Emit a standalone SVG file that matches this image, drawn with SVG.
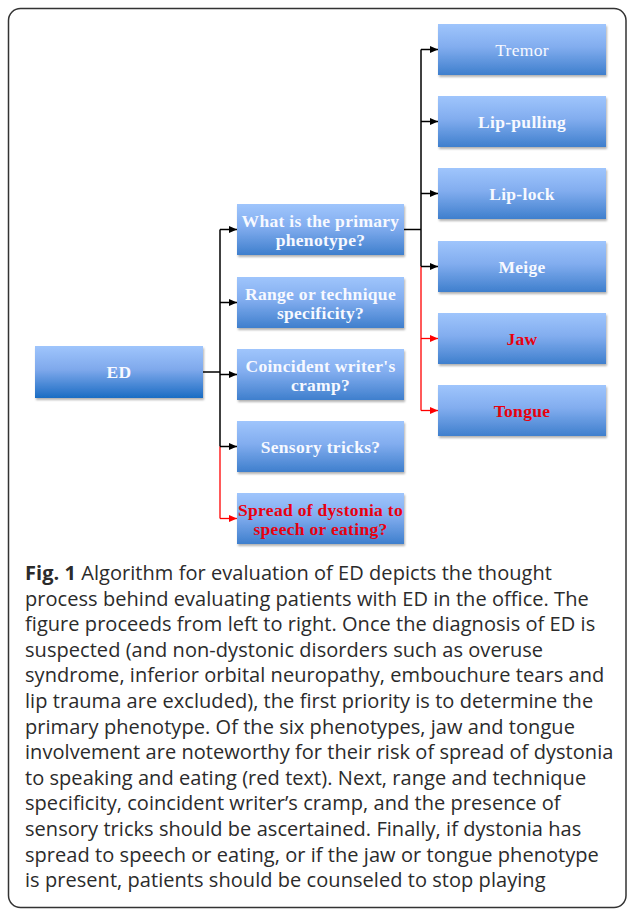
<svg xmlns="http://www.w3.org/2000/svg" width="627" height="911" viewBox="0 0 627 911">
<defs>
<style>
.box{fill:url(#g);filter:url(#sh)}
.boxed{fill:url(#g2);filter:url(#sh)}
.t{font-family:"Liberation Serif",serif;font-size:17.5px;font-weight:bold;fill:#f7f9ff;text-anchor:middle;letter-spacing:0.3px}
.t.red{fill:#e8000f}
.t.reg{font-weight:normal}
.k{fill:none;stroke:#000;stroke-width:1.5}
.r{fill:none;stroke:#f00;stroke-width:1.3}
.cap{font-family:"Open Sans",sans-serif;font-size:20px;fill:#2b2b2b;letter-spacing:0.05px}
</style>
<linearGradient id="g" x1="0" y1="0" x2="0" y2="1">
<stop offset="0" stop-color="#9fc5fc"/>
<stop offset="0.45" stop-color="#82adef"/>
<stop offset="1" stop-color="#3f7fcd"/>
</linearGradient>
<linearGradient id="g2" x1="0" y1="0" x2="0" y2="1">
<stop offset="0" stop-color="#9fc5fc"/>
<stop offset="0.45" stop-color="#7fa9ec"/>
<stop offset="1" stop-color="#1a6cc3"/>
</linearGradient>
<filter id="sh" x="-10%" y="-10%" width="125%" height="140%">
<feDropShadow dx="1" dy="2" stdDeviation="1.2" flood-color="#000" flood-opacity="0.3"/>
</filter>
<marker id="ab" markerUnits="userSpaceOnUse" markerWidth="9" markerHeight="8" refX="8" refY="3.5" orient="auto">
<path d="M0,0 L8,3.5 L0,7 z" fill="#000"/>
</marker>
<marker id="ar" markerUnits="userSpaceOnUse" markerWidth="9" markerHeight="8" refX="8" refY="3.5" orient="auto">
<path d="M0,0 L8,3.5 L0,7 z" fill="#f00"/>
</marker>
</defs>
<rect x="8.5" y="8.5" width="617.5" height="899" rx="12" fill="#fff" stroke="#333" stroke-width="1.5"/>

<g id="connectors">
<path class="k" d="M203,372 H220" stroke-width="2"/>
<path class="k" d="M220,229.5 V446.5"/>
<path class="r" d="M220,446.5 V518.5"/>
<path class="k" d="M220,229.5 H237" marker-end="url(#ab)"/>
<path class="k" d="M220,302.5 H237" marker-end="url(#ab)"/>
<path class="k" d="M220,374.5 H237" marker-end="url(#ab)"/>
<path class="k" d="M220,446.5 H237" marker-end="url(#ab)"/>
<path class="r" d="M220,518.5 H237" marker-end="url(#ar)"/>
<path class="k" d="M404,229.5 H421"/>
<path class="k" d="M421,49.5 V266.5"/>
<path class="r" d="M421,266.5 V410.5"/>
<path class="k" d="M421,49.5 H438" marker-end="url(#ab)"/>
<path class="k" d="M421,121.5 H438" marker-end="url(#ab)"/>
<path class="k" d="M421,193.5 H438" marker-end="url(#ab)"/>
<path class="k" d="M421,266.5 H438" marker-end="url(#ab)"/>
<path class="r" d="M421,338.5 H438" marker-end="url(#ar)"/>
<path class="r" d="M421,410.5 H438" marker-end="url(#ar)"/>
</g>

<g id="ed"><rect class="boxed" x="35" y="346" width="168" height="52"/><text class="t" x="119" y="377.5">ED</text></g>

<g id="primary"><rect class="box" x="237" y="204" width="167" height="51"/><text class="t" x="320.5" y="227">What is the primary</text><text class="t" x="320.5" y="245.5">phenotype?</text></g>
<g id="range"><rect class="box" x="237" y="277" width="167" height="51"/><text class="t" x="320.5" y="300">Range or technique</text><text class="t" x="320.5" y="318.5">specificity?</text></g>
<g id="writers"><rect class="box" x="237" y="349" width="167" height="51"/><text class="t" x="320.5" y="372">Coincident writer's</text><text class="t" x="320.5" y="390.5">cramp?</text></g>
<g id="sensory"><rect class="box" x="237" y="421" width="167" height="51"/><text class="t" x="320.5" y="452.5">Sensory tricks?</text></g>
<g id="spread"><rect class="box" x="237" y="493" width="167" height="51"/><text class="t red" x="320.5" y="516">Spread of dystonia to</text><text class="t red" x="320.5" y="534.5">speech or eating?</text></g>

<g id="tremor"><rect class="box" x="438" y="24" width="168" height="51"/><text class="t reg" x="522" y="55.5">Tremor</text></g>
<g id="lippulling"><rect class="box" x="438" y="96" width="168" height="51"/><text class="t" x="522" y="127.5">Lip-pulling</text></g>
<g id="liplock"><rect class="box" x="438" y="168" width="168" height="51"/><text class="t" x="522" y="199.5">Lip-lock</text></g>
<g id="meige"><rect class="box" x="438" y="241" width="168" height="51"/><text class="t" x="522" y="272.5">Meige</text></g>
<g id="jaw"><rect class="box" x="438" y="313" width="168" height="51"/><text class="t red" x="522" y="344.5">Jaw</text></g>
<g id="tongue"><rect class="box" x="438" y="385" width="168" height="51"/><text class="t red" x="522" y="416.5">Tongue</text></g>

<g id="caption" class="cap">
<text x="25" y="580"><tspan font-weight="bold">Fig. 1</tspan> Algorithm for evaluation of ED depicts the thought</text>
<text x="25" y="605.6">process behind evaluating patients with ED in the office. The</text>
<text x="25" y="631.2">figure proceeds from left to right. Once the diagnosis of ED is</text>
<text x="25" y="656.8">suspected (and non-dystonic disorders such as overuse</text>
<text x="25" y="682.4">syndrome, inferior orbital neuropathy, embouchure tears and</text>
<text x="25" y="708">lip trauma are excluded), the first priority is to determine the</text>
<text x="25" y="733.6">primary phenotype. Of the six phenotypes, jaw and tongue</text>
<text x="25" y="759.2">involvement are noteworthy for their risk of spread of dystonia</text>
<text x="25" y="784.8">to speaking and eating (red text). Next, range and technique</text>
<text x="25" y="810.4">specificity, coincident writer’s cramp, and the presence of</text>
<text x="25" y="836">sensory tricks should be ascertained. Finally, if dystonia has</text>
<text x="25" y="861.6">spread to speech or eating, or if the jaw or tongue phenotype</text>
<text x="25" y="887.2">is present, patients should be counseled to stop playing</text>
</g>
</svg>
